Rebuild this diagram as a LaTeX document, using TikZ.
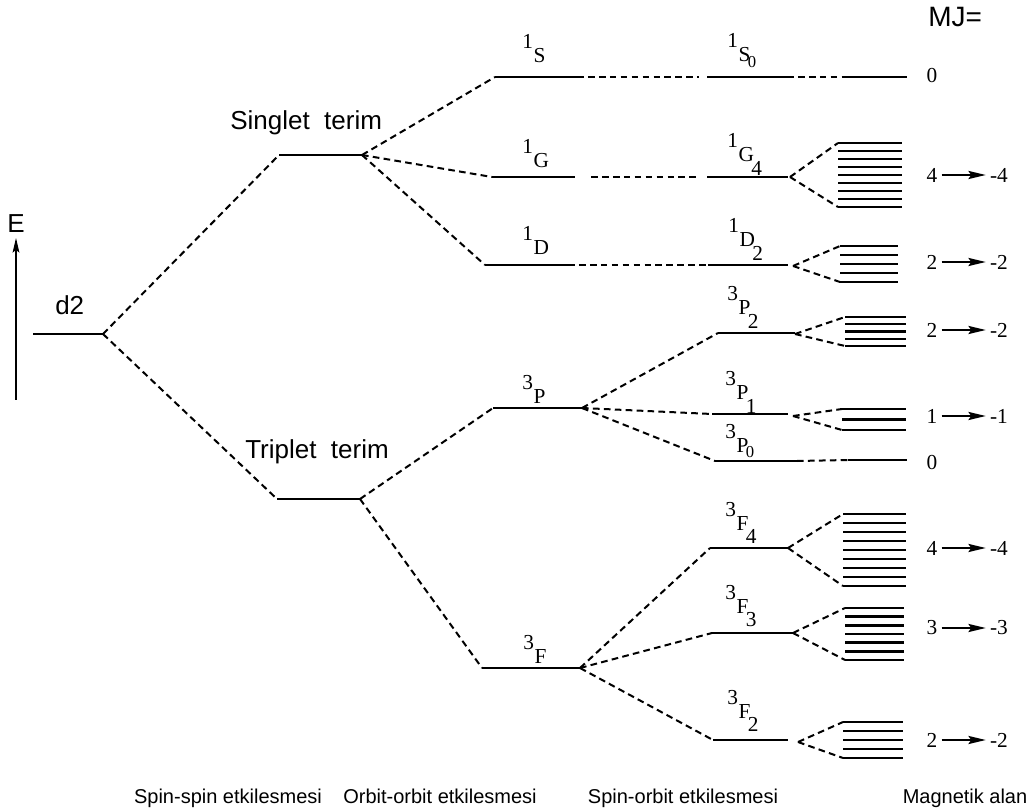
\documentclass[tikz,border=0pt]{standalone}
\usepackage{fontspec}
\setmainfont{Liberation Serif}
\newfontfamily\sansfont{Liberation Sans}
\usetikzlibrary{arrows.meta}

% term symbol: superscript, letter, subscript (optional drop)
\newcommand{\term}[4][10pt]{\raisebox{10.5pt}{#2}\kern0.5pt#3\kern-2pt\raisebox{-#1}{#4}}
% small zero subscript
\newcommand{\zsub}{{\fontsize{12.5}{14}\selectfont 0}}
% level line with west/east coordinates
\newcommand{\level}[4]{\coordinate (#1w) at (#2,#4); \coordinate (#1e) at (#3,#4); \draw[lvl] (#1w) -- (#1e);}
% stack of MJ sublevels: name, branch point, left, right, top, bottom, last index
\newcommand{\mjstack}[7]{%
  \foreach \k in {0,...,#7}
    \draw[mj] (#3,{#5+\k*(#6-#5)/#7}) -- (#4,{#5+\k*(#6-#5)/#7});
  \coordinate (#1t) at (#3,#5);
  \coordinate (#1b) at (#3,#6);
  \draw[split] (#2) -- (#1t);
  \draw[split] (#2) -- (#1b);
}

\begin{document}
\begin{tikzpicture}[x=0.75pt,y=-0.75pt,
  lvl/.style={line width=1.1pt},
  mj/.style={line width=1.8pt},
  split/.style={line width=1.5pt, dash pattern=on 5pt off 3.2pt},
  trm/.style={font=\fontsize{16}{18}\selectfont, inner sep=0pt, anchor=base west},
  sans/.style={font=\sansfont\fontsize{19.5}{22}\selectfont, inner sep=0pt},
  axis/.style={font=\sansfont\fontsize{15}{18}\selectfont, inner sep=0pt, anchor=base},
  num/.style={font=\fontsize{16}{18}\selectfont, inner sep=3pt},
  mjarr/.style={line width=1.7pt, -{Stealth[length=13pt,width=6pt,inset=2pt]}}]
\useasboundingbox (0,0) rectangle (1034,812);

% energy axis
\node[sans] (E) at (16,224) {E};
\coordinate (Ebot) at (16,400);
\draw[line width=1.5pt, -{Stealth[length=11pt,width=5pt,inset=2pt]}, shorten >=3.5pt] (Ebot) -- (E);

% configuration and spin-spin terms
\level{cfg}{33}{103}{334}
\node[sans, anchor=base west] (cfglab) at (55,315) {d2};
\level{sgl}{279}{362}{155}
\node[sans, anchor=base west] (sgllab) at (230,130) {Singlet~~terim};
\level{trp}{277}{360}{499}
\node[sans, anchor=base west] (trplab) at (245,458) {Triplet~~terim};
\draw[split] (cfge) -- (sglw);
\draw[split] (cfge) -- (trpw);

% orbit-orbit terms
\level{t1S}{495}{577}{77}
\level{t1G}{492}{575}{177}
\level{t1D}{485}{568}{265}
\level{t3P}{493}{582}{408}
\level{t3F}{482}{580}{668}
\node[trm] (l1S) at (522,63) {\term{1}{S}{}};
\node[trm] (l1G) at (522,168) {\term{1}{G}{}};
\node[trm] (l1D) at (522,255) {\term{1}{D}{}};
\node[trm] (l3P) at (522,403) {\term{3}{P}{}};
\node[trm] (l3F) at (523,663) {\term{3}{F}{}};
\draw[split] (sgle) -- (t1Sw);
\draw[split] (sgle) -- (t1Gw);
\draw[split] (sgle) -- (t1Dw);
\draw[split] (trpe) -- (t3Pw);
\draw[split] (trpe) -- (t3Fw);

% spin-orbit levels
\level{j1S}{707}{787}{77}
\level{j1G}{707}{788}{177}
\level{j1D}{708}{788}{265}
\level{j3Pb}{718}{795}{333}
\level{j3Pa}{712}{788}{414}
\level{j3Po}{715}{797}{461}
\level{j3Fc}{710}{788}{548}
\level{j3Fb}{712}{793}{633}
\level{j3Fa}{713}{788}{740}
\node[trm] (lj1S) at (727,62) {\term[4pt]{1}{S}{\zsub}};
\node[trm] (lj1G) at (727,162) {\term{1}{G}{4}};
\node[trm] (lj1D) at (728,247) {\term{1}{D}{2}};
\node[trm] (lj3Pb) at (727,315) {\term{3}{P}{2}};
\node[trm] (lj3Pa) at (725,400) {\term{3}{P}{1}};
\node[trm] (lj3Po) at (725,452) {\term[4pt]{3}{P}{\zsub}};
\node[trm] (lj3Fc) at (725,530) {\term{3}{F}{4}};
\node[trm] (lj3Fb) at (725,613) {\term{3}{F}{3}};
\node[trm] (lj3Fa) at (727,718) {\term{3}{F}{2}};
\draw[split, shorten >=6pt] (t1Se) -- (j1Sw);
\draw[split, shorten <=12pt, shorten >=7pt] (t1Ge) -- (j1Gw);
\draw[split] (t1De) -- (j1Dw);
\draw[split] (t3Pe) -- (j3Pbw);
\draw[split] (t3Pe) -- (j3Paw);
\draw[split] (t3Pe) -- (j3Pow);
\draw[split] (t3Fe) -- (j3Fcw);
\draw[split] (t3Fe) -- (j3Fbw);
\draw[split] (t3Fe) -- (j3Faw);

% magnetic sublevels
\coordinate (m1S) at (845,77);
\draw[split] (j1Se) -- (m1S);
\draw[mj] (m1S) -- (907,77);
\coordinate (m3Po) at (848,460);
\draw[split] (j3Poe) -- (m3Po);
\draw[mj] (m3Po) -- (907,460);
\coordinate (b1G) at (790,177);
\coordinate (b1D) at (793,266);
\coordinate (b3Pb) at (795,334);
\coordinate (b3Pa) at (793,416);
\coordinate (b3Fc) at (788,548);
\coordinate (b3Fb) at (793,633);
\coordinate (b3Fa) at (798,742);
\mjstack{m1G}{b1G}{838}{902}{143}{207}{8}
\mjstack{m1D}{b1D}{840}{898}{246}{282}{4}
\mjstack{m3Pb}{b3Pb}{845}{906}{317}{346}{4}
\mjstack{m3Pa}{b3Pa}{842}{906}{409}{430}{2}
\mjstack{m3Fc}{b3Fc}{843}{906}{514}{586}{8}
\mjstack{m3Fb}{b3Fb}{845}{904}{608}{660}{6}
\mjstack{m3Fa}{b3Fa}{843}{903}{722}{758}{4}

% MJ values
\node[sans, anchor=base west, font=\sansfont\fontsize{21}{24}\selectfont] (mjhead) at (928,27) {MJ=};
\node[num] (z1) at (932,76) {0};
\node[num] (z2) at (932,463) {0};
\foreach \y/\m [count=\i] in {175/4, 262/2, 330/2, 416/1, 548/4, 628/3, 740/2} {
  \node[num] (mjl\i) at (932,\y) {\m};
  \node[num] (mjr\i) at (999,\y) {-\m};
  \draw[mjarr] (mjl\i) -- (mjr\i);
}

% interaction labels
\node[axis] (ax1) at (228,803) {Spin-spin etkilesmesi};
\node[axis] (ax2) at (440,803) {Orbit-orbit etkilesmesi};
\node[axis] (ax3) at (683,803) {Spin-orbit etkilesmesi};
\node[axis] (ax4) at (965,803) {Magnetik alan};
\end{tikzpicture}
\end{document}
